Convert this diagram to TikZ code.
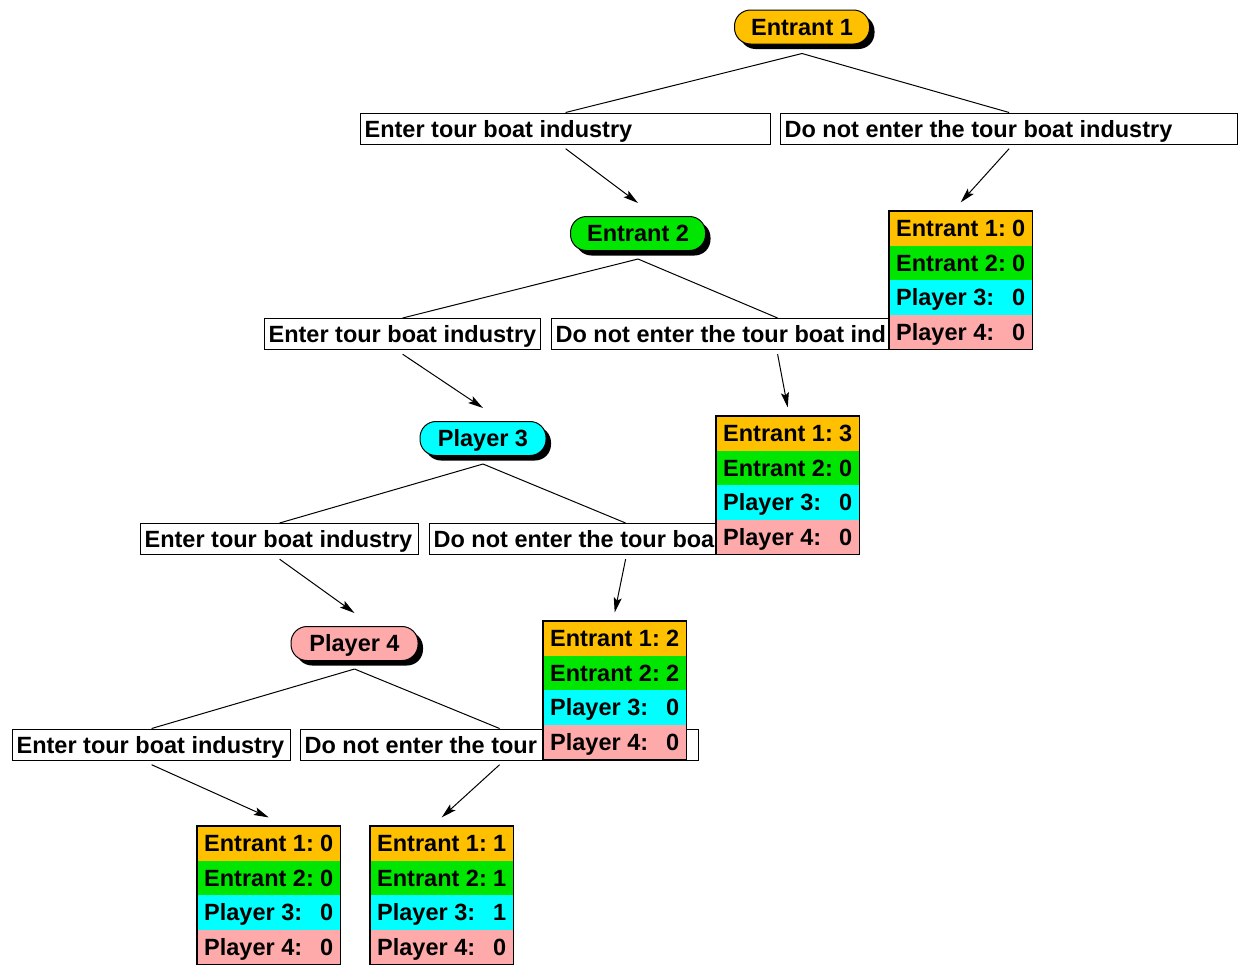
\documentclass[tikz,border=0pt]{standalone}
\usepackage{fontspec}
\setmainfont{Liberation Sans}
\usetikzlibrary{arrows.meta,shadows,fit}

\definecolor{pOrange}{RGB}{255,192,0}
\definecolor{pGreen}{RGB}{0,230,0}
\definecolor{pCyan}{RGB}{0,255,255}
\definecolor{pPink}{RGB}{255,170,170}

\tikzset{
  every node/.style={font=\fontsize{23.5}{26}\selectfont\bfseries},
  txt/.style={text height=21.8pt, text depth=5pt},
  player/.style={txt, draw=black, line width=1pt, rectangle, rounded corners=16pt,
    minimum height=34pt, inner sep=0pt,
    drop shadow={shadow xshift=5pt, shadow yshift=-5pt, fill=black, opacity=1}},
  choice/.style={txt, draw=black, line width=1.2pt, fill=white, minimum height=31pt,
    inner xsep=4pt, inner ysep=0pt, anchor=north west},
  branch/.style={line width=1pt},
  move/.style={line width=1pt, -{Stealth[length=15pt,width=8pt,inset=3pt]}},
  payrow/.style={txt, minimum width=143pt, minimum height=34.5pt, inner sep=0pt, anchor=north west},
  paybox/.style={draw=black, line width=1.2pt, inner sep=0pt},
}

% one payoff table: name, left x, top y, four values
\newcommand\payofftable[7]{%
  \node[payrow, fill=pOrange] (#1-1) at (#2,#3)        {\hbox to 129pt{Entrant 1:\hfill #4}};
  \node[payrow, fill=pGreen]  (#1-2) at (#2,{#3+34.5}) {\hbox to 129pt{Entrant 2:\hfill #5}};
  \node[payrow, fill=pCyan]   (#1-3) at (#2,{#3+69})   {\hbox to 129pt{Player 3:\hfill #6}};
  \node[payrow, fill=pPink]   (#1-4) at (#2,{#3+103.5}){\hbox to 129pt{Player 4:\hfill #7}};
  \node[paybox, fit=(#1-1)(#1-4)] (#1) {};
}

\begin{document}
\begin{tikzpicture}[x=1pt,y=-1pt]
  \useasboundingbox (0,0) rectangle (1238,964);
  \clip (0,0) rectangle (1238,964);

  % decision nodes
  \node[player, fill=pOrange, minimum width=135pt] (e1) at (802,27)    {Entrant 1};
  \node[player, fill=pGreen,  minimum width=135pt] (e2) at (638,233.5) {Entrant 2};
  \node[player, fill=pCyan,   minimum width=126pt] (p3) at (483,438.5) {Player 3};
  \node[player, fill=pPink,   minimum width=127pt] (p4) at (354.5,643.5) {Player 4};

  % choices (the payoff tables cover the right part of some)
  \node[choice] (c1a) at (360,112.5) {\makebox[402pt][l]{Enter tour boat industry}};
  \node[choice] (c1b) at (780,112.5) {\makebox[449pt][l]{Do not enter the tour boat industry}};
  \node[choice] (c2a) at (264,318) {\makebox[268pt][l]{Enter tour boat industry}};
  \node[choice] (c2b) at (551,318) {\makebox[444pt][l]{Do not enter the tour boat ind}};
  \node[choice] (c3a) at (140,523) {\makebox[270pt][l]{Enter tour boat industry}};
  \node[choice] (c3b) at (429,523) {\makebox[384pt][l]{Do not enter the tour boa}};
  \node[choice] (c4a) at (12,728.5)  {\makebox[270pt][l]{Enter tour boat industry}};
  \node[choice] (c4b) at (300,728.5) {\makebox[390pt][l]{Do not enter the tour}};

  % branches from each decision node
  \draw[branch] ([yshift=-9pt]e1.south) -- (c1a.north);
  \draw[branch] ([yshift=-9pt]e1.south) -- (c1b.north);
  \draw[branch] ([yshift=-8pt]e2.south) -- (c2a.north);
  \draw[branch] ([yshift=-8pt]e2.south) -- (c2b.north);
  \draw[branch] ([yshift=-8pt]p3.south) -- (c3a.north);
  \draw[branch] ([yshift=-8pt]p3.south) -- (c3b.north);
  \draw[branch] ([yshift=-8pt]p4.south) -- (c4a.north);
  \draw[branch] ([yshift=-8pt]p4.south) -- (c4b.north);

  % payoff tables
  \payofftable{pA}{889}{211}{0}{0}{0}{0}
  \payofftable{pB}{716}{416}{3}{0}{0}{0}
  \payofftable{pC}{543}{621}{2}{2}{0}{0}
  \payofftable{pD}{197}{826}{0}{0}{0}{0}
  \payofftable{pE}{370}{826}{1}{1}{1}{0}

  % moves
  \draw[move] ([yshift=-4pt]c1a.south) -- ([yshift=13pt]e2.north);
  \draw[move] ([yshift=-4pt]c1b.south) -- ([yshift=8pt]pA.north);
  \draw[move] ([yshift=-4pt]c2a.south) -- ([yshift=13pt]p3.north);
  \draw[move] ([yshift=-4pt]c2b.south) -- ([yshift=8pt]pB.north);
  \draw[move] ([yshift=-4pt]c3a.south) -- ([yshift=13pt]p4.north);
  \draw[move] ([yshift=-4pt]c3b.south) -- ([yshift=8pt]pC.north);
  \draw[move] ([yshift=-4pt]c4a.south) -- ([yshift=8pt]pD.north);
  \draw[move] ([yshift=-4pt]c4b.south) -- ([yshift=8pt]pE.north);
\end{tikzpicture}
\end{document}
